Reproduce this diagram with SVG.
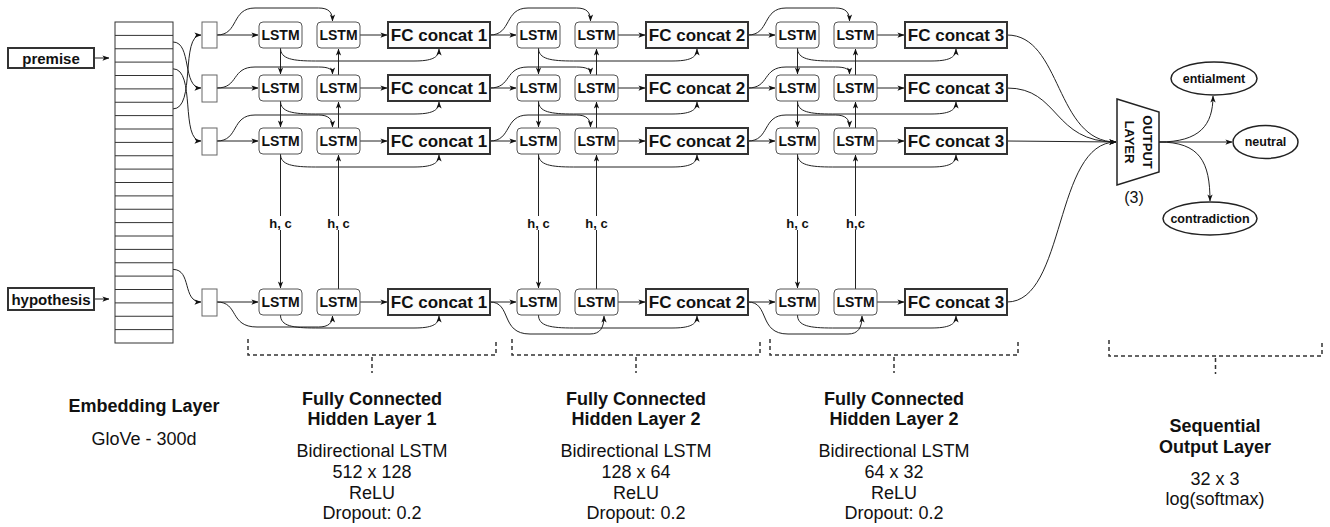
<svg xmlns="http://www.w3.org/2000/svg" width="1330" height="527" viewBox="0 0 1330 527">
<style>
text{font-family:"Liberation Sans",Arial,sans-serif;fill:#111}
.b{font-weight:bold}
.lstm{fill:#fff;stroke:#555;stroke-width:1}
.lt{font-size:14px;font-weight:bold;text-anchor:middle;dominant-baseline:central}
.fc{fill:#fcfcfc;stroke:#333;stroke-width:2}
.ft{font-size:17px;font-weight:bold;text-anchor:middle;dominant-baseline:central}
.sb{fill:#fff;stroke:#666;stroke-width:1}
.e{fill:none;stroke:#222;stroke-width:1}
.ea{fill:none;stroke:#222;stroke-width:1;marker-end:url(#ah)}
.dash{fill:none;stroke:#333;stroke-width:1.5;stroke-dasharray:4 3}
.hc{font-size:13px;font-weight:bold;text-anchor:middle;dominant-baseline:central}
.t18b{font-size:18px;font-weight:bold;text-anchor:middle}
.t18{font-size:18px;text-anchor:middle}
.ell{fill:#fff;stroke:#222;stroke-width:1.5}
.et{font-size:12.5px;font-weight:bold;text-anchor:middle;dominant-baseline:central}
</style>
<defs>
<marker id="ah" viewBox="0 0 8 8" refX="7.5" refY="4" markerWidth="7" markerHeight="7" markerUnits="userSpaceOnUse" orient="auto"><path d="M0,1 L8,4 L0,7 L2,4 z" fill="#111"/></marker>
</defs>
<rect width="1330" height="527" fill="#fff"/>

<g id="connectors">
<!-- inputs -->
<path class="ea" d="M94,58 L109,58"/>
<path class="ea" d="M94,299 L109,299"/>
<path class="ea" d="M173,42 C192,42 182,88 201,88"/>
<path class="ea" d="M173,108.9 C196,108.9 180,35 201,35"/>
<path class="ea" d="M173,68.8 C196,68.8 180,141 201,141"/>
<path class="ea" d="M173,269.4 C192,269.4 182,302 201,302"/>
<!-- small boxes to LSTM A (group 1) -->
<path class="ea" d="M217,35 L258,35"/>
<path class="ea" d="M217,88 L258,88"/>
<path class="ea" d="M217,141 L258,141"/>
<path class="ea" d="M217,302 L258,302"/>
<!-- group 1 over curves -->
<path class="ea" d="M217,35 C239,35 231,8 255,8 L318.5,8 C328.5,8 332.5,12 332.5,21"/>
<path class="ea" d="M217,88 C239,88 231,67 255,67 L318.5,67 C328.5,67 332.5,69 332.5,74"/>
<path class="ea" d="M217,141 C239,141 231,115 255,115 L318.5,115 C328.5,115 332.5,119 332.5,127"/>
<path class="ea" d="M217,302 C239,302 229,327 257,327 L318.5,327 C328.5,327 332.5,323 332.5,316"/>
<!-- group 1 B to FC -->
<path class="ea" d="M360,35 L387,35"/>
<path class="ea" d="M360,88 L387,88"/>
<path class="ea" d="M360,141 L387,141"/>
<path class="ea" d="M360,302 L387,302"/>
<!-- group 1 A to FC curves -->
<path class="ea" d="M280.5,48 C280.5,59 292.5,61 315.5,61 L414,61 C431,61 439,58 439,49"/>
<path class="ea" d="M280.5,101 C280.5,112 292.5,114 315.5,114 L414,114 C431,114 439,111 439,102"/>
<path class="ea" d="M280.5,154 C280.5,165 292.5,167 315.5,167 L414,167 C431,167 439,164 439,155"/>
<path class="ea" d="M280.5,315 C280.5,326 292.5,328 315.5,328 L414,328 C431,328 439,325 439,316"/>
<!-- group 1 verticals -->
<path class="ea" d="M280.5,48 L280.5,74"/>
<path class="ea" d="M280.5,101 L280.5,127"/>
<path class="ea" d="M280.5,154 L280.5,288"/>
<path class="ea" d="M338.5,75 L338.5,49"/>
<path class="ea" d="M338.5,128 L338.5,102"/>
<path class="ea" d="M338.5,289 L338.5,155"/>

<!-- group 2 -->
<path class="ea" d="M490,35 L516,35"/>
<path class="ea" d="M490,88 L516,88"/>
<path class="ea" d="M490,141 L516,141"/>
<path class="ea" d="M490,302 L516,302"/>
<path class="ea" d="M490,35 C512,35 504,8 528,8 L576.5,8 C586.5,8 590.5,12 590.5,21"/>
<path class="ea" d="M490,88 C512,88 504,67 528,67 L576.5,67 C586.5,67 590.5,69 590.5,74"/>
<path class="ea" d="M490,141 C512,141 504,115 528,115 L576.5,115 C586.5,115 590.5,119 590.5,127"/>
<path class="ea" d="M490,302 C512,302 500,334 530,334 L590,334 C600,334 604,328 604,316"/>
<path class="ea" d="M618,35 L645,35"/>
<path class="ea" d="M618,88 L645,88"/>
<path class="ea" d="M618,141 L645,141"/>
<path class="ea" d="M618,302 L645,302"/>
<path class="ea" d="M538.5,48 C538.5,59 550.5,61 573.5,61 L672,61 C689,61 697,58 697,49"/>
<path class="ea" d="M538.5,101 C538.5,112 550.5,114 573.5,114 L672,114 C689,114 697,111 697,102"/>
<path class="ea" d="M538.5,154 C538.5,165 550.5,167 573.5,167 L672,167 C689,167 697,164 697,155"/>
<path class="ea" d="M538.5,315 C538.5,326 550.5,328 573.5,328 L672,328 C689,328 697,325 697,316"/>
<path class="ea" d="M538.5,48 L538.5,74"/>
<path class="ea" d="M538.5,101 L538.5,127"/>
<path class="ea" d="M538.5,154 L538.5,288"/>
<path class="ea" d="M596.5,75 L596.5,49"/>
<path class="ea" d="M596.5,128 L596.5,102"/>
<path class="ea" d="M596.5,289 L596.5,155"/>

<!-- group 3 -->
<path class="ea" d="M748,35 L775,35"/>
<path class="ea" d="M748,88 L775,88"/>
<path class="ea" d="M748,141 L775,141"/>
<path class="ea" d="M748,302 L775,302"/>
<path class="ea" d="M748,35 C770,35 762,8 786,8 L835.5,8 C845.5,8 849.5,12 849.5,21"/>
<path class="ea" d="M748,88 C770,88 762,67 786,67 L835.5,67 C845.5,67 849.5,69 849.5,74"/>
<path class="ea" d="M748,141 C770,141 762,115 786,115 L835.5,115 C845.5,115 849.5,119 849.5,127"/>
<path class="ea" d="M748,302 C770,302 758,334 788,334 L848,334 C858,334 862,328 862,316"/>
<path class="ea" d="M877,35 L904,35"/>
<path class="ea" d="M877,88 L904,88"/>
<path class="ea" d="M877,141 L904,141"/>
<path class="ea" d="M877,302 L904,302"/>
<path class="ea" d="M797.5,48 C797.5,59 809.5,61 832.5,61 L931,61 C948,61 956,58 956,49"/>
<path class="ea" d="M797.5,101 C797.5,112 809.5,114 832.5,114 L931,114 C948,114 956,111 956,102"/>
<path class="ea" d="M797.5,154 C797.5,165 809.5,167 832.5,167 L931,167 C948,167 956,164 956,155"/>
<path class="ea" d="M797.5,315 C797.5,326 809.5,328 832.5,328 L931,328 C948,328 956,325 956,316"/>
<path class="ea" d="M797.5,48 L797.5,74"/>
<path class="ea" d="M797.5,101 L797.5,127"/>
<path class="ea" d="M797.5,154 L797.5,288"/>
<path class="ea" d="M855.5,75 L855.5,49"/>
<path class="ea" d="M855.5,128 L855.5,102"/>
<path class="ea" d="M855.5,289 L855.5,155"/>

<!-- to output layer -->
<path class="ea" d="M1007,35 C1062,35 1055,142 1116,142"/>
<path class="ea" d="M1007,88 C1060,88 1052,142 1116,142"/>
<path class="ea" d="M1007,141 L1116,142"/>
<path class="ea" d="M1007,302 C1066,302 1054,142 1116,142"/>
<!-- from output layer -->
<path class="ea" d="M1159,142 C1200,142 1213,125 1213,96"/>
<path class="ea" d="M1159,142 L1232,142"/>
<path class="ea" d="M1159,142 C1200,142 1210,162 1210,201"/>
</g>

<!-- h, c labels -->
<g id="hc-labels">
<rect x="266" y="216" width="29" height="14" fill="#fff"/><text class="hc" x="280.5" y="223">h, c</text>
<rect x="324" y="216" width="29" height="14" fill="#fff"/><text class="hc" x="338.5" y="223">h, c</text>
<rect x="524" y="216" width="29" height="14" fill="#fff"/><text class="hc" x="538.5" y="223">h, c</text>
<rect x="582" y="216" width="29" height="14" fill="#fff"/><text class="hc" x="596.5" y="223">h, c</text>
<rect x="783" y="216" width="29" height="14" fill="#fff"/><text class="hc" x="797.5" y="223">h, c</text>
<rect x="843" y="216" width="25" height="14" fill="#fff"/><text class="hc" x="855.5" y="223">h,c</text>
</g>

<g id="premise"><rect x="8" y="48" width="86" height="20" fill="#fff" stroke="#333" stroke-width="2"/><text class="b" x="51" y="58" font-size="15" text-anchor="middle" dominant-baseline="central">premise</text></g>
<g id="hypothesis"><rect x="8" y="288" width="86" height="22" fill="#fff" stroke="#333" stroke-width="2"/><text class="b" x="51" y="299" font-size="15" text-anchor="middle" dominant-baseline="central">hypothesis</text></g>

<g id="embedding">
<rect x="115" y="22" width="58" height="321" fill="#fff" stroke="#333" stroke-width="1"/>
<path fill="none" stroke="#333" stroke-width="1" d="M115,35.4H173M115,48.75H173M115,62.1H173M115,75.5H173M115,88.9H173M115,102.25H173M115,115.6H173M115,129H173M115,142.4H173M115,155.75H173M115,169.1H173M115,182.5H173M115,195.9H173M115,209.25H173M115,222.6H173M115,236H173M115,249.4H173M115,262.75H173M115,276.1H173M115,289.5H173M115,302.9H173M115,316.25H173M115,329.6H173"/>
</g>

<g id="inputs">
<rect class="sb" x="202" y="22" width="15" height="26"/>
<rect class="sb" x="202" y="75" width="15" height="27"/>
<rect class="sb" x="202" y="128" width="15" height="27"/>
<rect class="sb" x="202" y="289" width="15" height="27"/>
</g>

<g id="layer1">
<rect class="lstm" x="259" y="22" width="43" height="26" rx="4"/><text class="lt" x="280.5" y="35">LSTM</text>
<rect class="lstm" x="317" y="22" width="43" height="26" rx="4"/><text class="lt" x="338.5" y="35">LSTM</text>
<rect class="fc" x="388" y="22" width="102" height="26"/><text class="ft" x="439" y="35">FC concat 1</text>
<rect class="lstm" x="259" y="75" width="43" height="26" rx="4"/><text class="lt" x="280.5" y="88">LSTM</text>
<rect class="lstm" x="317" y="75" width="43" height="26" rx="4"/><text class="lt" x="338.5" y="88">LSTM</text>
<rect class="fc" x="388" y="75" width="102" height="26"/><text class="ft" x="439" y="88">FC concat 1</text>
<rect class="lstm" x="259" y="128" width="43" height="26" rx="4"/><text class="lt" x="280.5" y="141">LSTM</text>
<rect class="lstm" x="317" y="128" width="43" height="26" rx="4"/><text class="lt" x="338.5" y="141">LSTM</text>
<rect class="fc" x="388" y="128" width="102" height="26"/><text class="ft" x="439" y="141">FC concat 1</text>
<rect class="lstm" x="259" y="289" width="43" height="26" rx="4"/><text class="lt" x="280.5" y="302">LSTM</text>
<rect class="lstm" x="317" y="289" width="43" height="26" rx="4"/><text class="lt" x="338.5" y="302">LSTM</text>
<rect class="fc" x="388" y="289" width="102" height="26"/><text class="ft" x="439" y="302">FC concat 1</text>
</g>

<g id="layer2">
<rect class="lstm" x="517" y="22" width="43" height="26" rx="4"/><text class="lt" x="538.5" y="35">LSTM</text>
<rect class="lstm" x="575" y="22" width="43" height="26" rx="4"/><text class="lt" x="596.5" y="35">LSTM</text>
<rect class="fc" x="646" y="22" width="102" height="26"/><text class="ft" x="697" y="35">FC concat 2</text>
<rect class="lstm" x="517" y="75" width="43" height="26" rx="4"/><text class="lt" x="538.5" y="88">LSTM</text>
<rect class="lstm" x="575" y="75" width="43" height="26" rx="4"/><text class="lt" x="596.5" y="88">LSTM</text>
<rect class="fc" x="646" y="75" width="102" height="26"/><text class="ft" x="697" y="88">FC concat 2</text>
<rect class="lstm" x="517" y="128" width="43" height="26" rx="4"/><text class="lt" x="538.5" y="141">LSTM</text>
<rect class="lstm" x="575" y="128" width="43" height="26" rx="4"/><text class="lt" x="596.5" y="141">LSTM</text>
<rect class="fc" x="646" y="128" width="102" height="26"/><text class="ft" x="697" y="141">FC concat 2</text>
<rect class="lstm" x="517" y="289" width="43" height="26" rx="4"/><text class="lt" x="538.5" y="302">LSTM</text>
<rect class="lstm" x="575" y="289" width="43" height="26" rx="4"/><text class="lt" x="596.5" y="302">LSTM</text>
<rect class="fc" x="646" y="289" width="102" height="26"/><text class="ft" x="697" y="302">FC concat 2</text>
</g>

<g id="layer3">
<rect class="lstm" x="776" y="22" width="43" height="26" rx="4"/><text class="lt" x="797.5" y="35">LSTM</text>
<rect class="lstm" x="834" y="22" width="43" height="26" rx="4"/><text class="lt" x="855.5" y="35">LSTM</text>
<rect class="fc" x="905" y="22" width="102" height="26"/><text class="ft" x="956" y="35">FC concat 3</text>
<rect class="lstm" x="776" y="75" width="43" height="26" rx="4"/><text class="lt" x="797.5" y="88">LSTM</text>
<rect class="lstm" x="834" y="75" width="43" height="26" rx="4"/><text class="lt" x="855.5" y="88">LSTM</text>
<rect class="fc" x="905" y="75" width="102" height="26"/><text class="ft" x="956" y="88">FC concat 3</text>
<rect class="lstm" x="776" y="128" width="43" height="26" rx="4"/><text class="lt" x="797.5" y="141">LSTM</text>
<rect class="lstm" x="834" y="128" width="43" height="26" rx="4"/><text class="lt" x="855.5" y="141">LSTM</text>
<rect class="fc" x="905" y="128" width="102" height="26"/><text class="ft" x="956" y="141">FC concat 3</text>
<rect class="lstm" x="776" y="289" width="43" height="26" rx="4"/><text class="lt" x="797.5" y="302">LSTM</text>
<rect class="lstm" x="834" y="289" width="43" height="26" rx="4"/><text class="lt" x="855.5" y="302">LSTM</text>
<rect class="fc" x="905" y="289" width="102" height="26"/><text class="ft" x="956" y="302">FC concat 3</text>
</g>

<g id="output-layer">
<polygon points="1117,99 1159,112 1159,172 1117,185" fill="#fff" stroke="#222" stroke-width="1.5"/>
<text class="b" font-size="13" text-anchor="middle" dominant-baseline="central" transform="translate(1147,142) rotate(90)">OUTPUT</text>
<text class="b" font-size="13" text-anchor="middle" dominant-baseline="central" transform="translate(1129,142) rotate(90)">LAYER</text>
<text x="1134" y="203" font-size="16" text-anchor="middle">(3)</text>
</g>

<g id="entialment"><ellipse class="ell" cx="1214" cy="78.5" rx="43" ry="16.5"/><text class="et" x="1214" y="78.5">entialment</text></g>
<g id="neutral"><ellipse class="ell" cx="1265.5" cy="142" rx="32.5" ry="16.5"/><text class="et" x="1265.5" y="142">neutral</text></g>
<g id="contradiction"><ellipse class="ell" cx="1210" cy="218.5" rx="47" ry="16.5"/><text class="et" x="1210" y="218.5">contradiction</text></g>

<g id="brackets">
<path class="dash" d="M248,339 V355 H496 V339"/><path class="dash" d="M372,357 V373"/>
<path class="dash" d="M512,339 V355 H760 V339"/><path class="dash" d="M636,357 V373"/>
<path class="dash" d="M770,339 V355 H1018 V339"/><path class="dash" d="M894,357 V373"/>
<path class="dash" d="M1109,340 V356 H1322 V340"/><path class="dash" d="M1215.5,358 V374"/>
</g>

<g id="captions">
<text class="t18b" x="144" y="412">Embedding Layer</text>
<text class="t18" x="144" y="445">GloVe - 300d</text>

<text class="t18b" x="372" y="405">Fully Connected</text>
<text class="t18b" x="372" y="425">Hidden Layer 1</text>
<text class="t18" x="372" y="457">Bidirectional LSTM</text>
<text class="t18" x="372" y="478">512 x 128</text>
<text class="t18" x="372" y="498.5">ReLU</text>
<text class="t18" x="372" y="519">Dropout: 0.2</text>

<text class="t18b" x="636" y="405">Fully Connected</text>
<text class="t18b" x="636" y="425">Hidden Layer 2</text>
<text class="t18" x="636" y="457">Bidirectional LSTM</text>
<text class="t18" x="636" y="478">128 x 64</text>
<text class="t18" x="636" y="498.5">ReLU</text>
<text class="t18" x="636" y="519">Dropout: 0.2</text>

<text class="t18b" x="894" y="405">Fully Connected</text>
<text class="t18b" x="894" y="425">Hidden Layer 2</text>
<text class="t18" x="894" y="457">Bidirectional LSTM</text>
<text class="t18" x="894" y="478">64 x 32</text>
<text class="t18" x="894" y="498.5">ReLU</text>
<text class="t18" x="894" y="519">Dropout: 0.2</text>

<text class="t18b" x="1215" y="432">Sequential</text>
<text class="t18b" x="1215" y="453">Output Layer</text>
<text class="t18" x="1215" y="485">32 x 3</text>
<text class="t18" x="1215" y="505">log(softmax)</text>
</g>
</svg>
